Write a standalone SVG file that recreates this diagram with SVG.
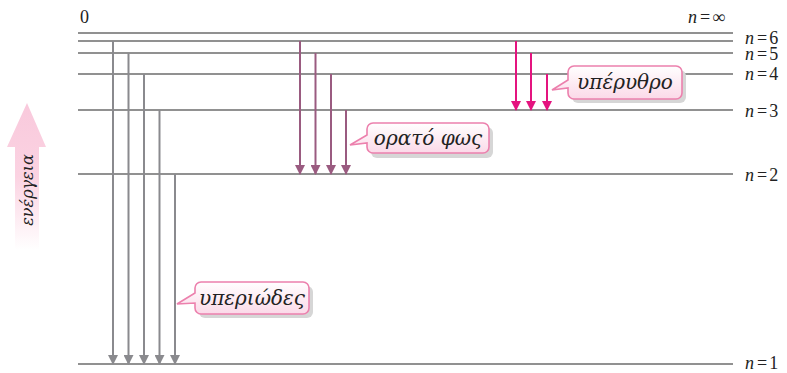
<svg xmlns="http://www.w3.org/2000/svg" width="787" height="373" viewBox="0 0 787 373">
<style>
.lvl{stroke:#6d6d6d;stroke-width:1.3;fill:none}
.lab{font-family:"Liberation Serif",serif;font-size:18px;fill:#222}
.ital{font-style:italic}
.ly{stroke:#8a8a8e;stroke-width:2;fill:none}
.ba{stroke:#9a5b80;stroke-width:2;fill:none}
.pa{stroke:#e4147f;stroke-width:2;fill:none}
.co{fill:url(#cg);stroke:#ec80ad;stroke-width:1.6}
.sh{fill:#d6d6d6}
.ct{font-family:"DejaVu Serif",serif;font-style:italic;font-size:20px;fill:#222}
</style>
<defs>
<marker id="ag" viewBox="0 0 10 10" refX="9" refY="5" markerWidth="5" markerHeight="5" orient="auto"><path d="M0,0L10,5L0,10z" fill="#8a8a8e"/></marker>
<marker id="am" viewBox="0 0 10 10" refX="9" refY="5" markerWidth="5" markerHeight="5" orient="auto"><path d="M0,0L10,5L0,10z" fill="#9a5b80"/></marker>
<marker id="ap" viewBox="0 0 10 10" refX="9" refY="5" markerWidth="5" markerHeight="5" orient="auto"><path d="M0,0L10,5L0,10z" fill="#e4147f"/></marker>
<linearGradient id="cg" x1="0" y1="0" x2="0" y2="1"><stop offset="0" stop-color="#ffffff"/><stop offset="1" stop-color="#fbd9e8"/></linearGradient>
<linearGradient id="eg" x1="0" y1="1" x2="0" y2="0"><stop offset="0" stop-color="#fbd3e2" stop-opacity="0"/><stop offset="0.5" stop-color="#fbd3e2"/><stop offset="1" stop-color="#f9c9dc"/></linearGradient>
</defs>

<g id="energy-axis">
<path d="M27,103L46,147L39,147L39,250L15,250L15,147L7,147Z" fill="url(#eg)"/>
<text transform="translate(33,190) rotate(-90)" text-anchor="middle" font-family="DejaVu Serif, serif" font-style="italic" font-size="16" fill="#222">ενέργεια</text>
</g>

<g id="levels">
<line class="lvl" x1="78" y1="33" x2="733" y2="33"/>
<line class="lvl" x1="78" y1="41" x2="733" y2="41"/>
<line class="lvl" x1="78" y1="53" x2="733" y2="53" stroke="#555"/>
<line class="lvl" x1="78" y1="74" x2="733" y2="74" stroke="#444"/>
<line class="lvl" x1="78" y1="110" x2="733" y2="110"/>
<line class="lvl" x1="78" y1="174" x2="733" y2="174" stroke="#222"/>
<line class="lvl" x1="78" y1="364" x2="733" y2="364" stroke="#888" stroke-width="1.6"/>
<text class="lab" x="80" y="23" font-size="19">0</text>
<text class="lab ital" x="688" y="23">n<tspan font-style="normal" dx="3">=</tspan><tspan font-style="normal" dx="2">∞</tspan></text>
<text class="lab ital" x="745" y="44">n<tspan font-style="normal" dx="3">=</tspan><tspan font-style="normal" dx="2">6</tspan></text>
<text class="lab ital" x="745" y="60">n<tspan font-style="normal" dx="3">=</tspan><tspan font-style="normal" dx="2">5</tspan></text>
<text class="lab ital" x="745" y="80">n<tspan font-style="normal" dx="3">=</tspan><tspan font-style="normal" dx="2">4</tspan></text>
<text class="lab ital" x="745" y="117">n<tspan font-style="normal" dx="3">=</tspan><tspan font-style="normal" dx="2">3</tspan></text>
<text class="lab ital" x="745" y="181">n<tspan font-style="normal" dx="3">=</tspan><tspan font-style="normal" dx="2">2</tspan></text>
<text class="lab ital" x="745" y="369">n<tspan font-style="normal" dx="3">=</tspan><tspan font-style="normal" dx="2">1</tspan></text>
</g>

<g id="connectors">
<line class="ly" x1="113" y1="41" x2="113" y2="364" marker-end="url(#ag)"/>
<line class="ly" x1="128.5" y1="53" x2="128.5" y2="364" marker-end="url(#ag)"/>
<line class="ly" x1="144" y1="74" x2="144" y2="364" marker-end="url(#ag)"/>
<line class="ly" x1="159.5" y1="110" x2="159.5" y2="364" marker-end="url(#ag)"/>
<line class="ly" x1="175" y1="174" x2="175" y2="364" marker-end="url(#ag)"/>
<line class="ba" x1="300" y1="41" x2="300" y2="174" marker-end="url(#am)"/>
<line class="ba" x1="315.5" y1="53" x2="315.5" y2="174" marker-end="url(#am)"/>
<line class="ba" x1="331" y1="74" x2="331" y2="174" marker-end="url(#am)"/>
<line class="ba" x1="346" y1="110" x2="346" y2="174" marker-end="url(#am)"/>
<line class="pa" x1="516" y1="41" x2="516" y2="110" marker-end="url(#ap)"/>
<line class="pa" x1="531" y1="53" x2="531" y2="110" marker-end="url(#ap)"/>
<line class="pa" x1="547" y1="74" x2="547" y2="110" marker-end="url(#ap)"/>
</g>

<g id="callout-infrared">
<rect class="sh" x="572" y="70" width="114" height="33" rx="6"/>
<path class="co" d="M574,66H676A6,6 0 0 1 682,72V93A6,6 0 0 1 676,99H574A6,6 0 0 1 568,93V88L552,90L568,80V72A6,6 0 0 1 574,66Z"/>
<text class="ct" x="625" y="89" text-anchor="middle">υπέρυθρο</text>
</g>

<g id="callout-visible">
<rect class="sh" x="371" y="127" width="122" height="31" rx="6"/>
<path class="co" d="M373,123H483A6,6 0 0 1 489,129V147A6,6 0 0 1 483,153H373A6,6 0 0 1 367,147V143L350,145L367,135V129A6,6 0 0 1 373,123Z"/>
<text class="ct" x="428" y="145" text-anchor="middle">ορατό φως</text>
</g>

<g id="callout-uv">
<rect class="sh" x="199" y="286" width="114" height="32" rx="6"/>
<path class="co" d="M201,282H303A6,6 0 0 1 309,288V308A6,6 0 0 1 303,314H201A6,6 0 0 1 195,308V303L177,304L195,293V288A6,6 0 0 1 201,282Z"/>
<text class="ct" x="252" y="305" text-anchor="middle">υπεριώδες</text>
</g>
</svg>
